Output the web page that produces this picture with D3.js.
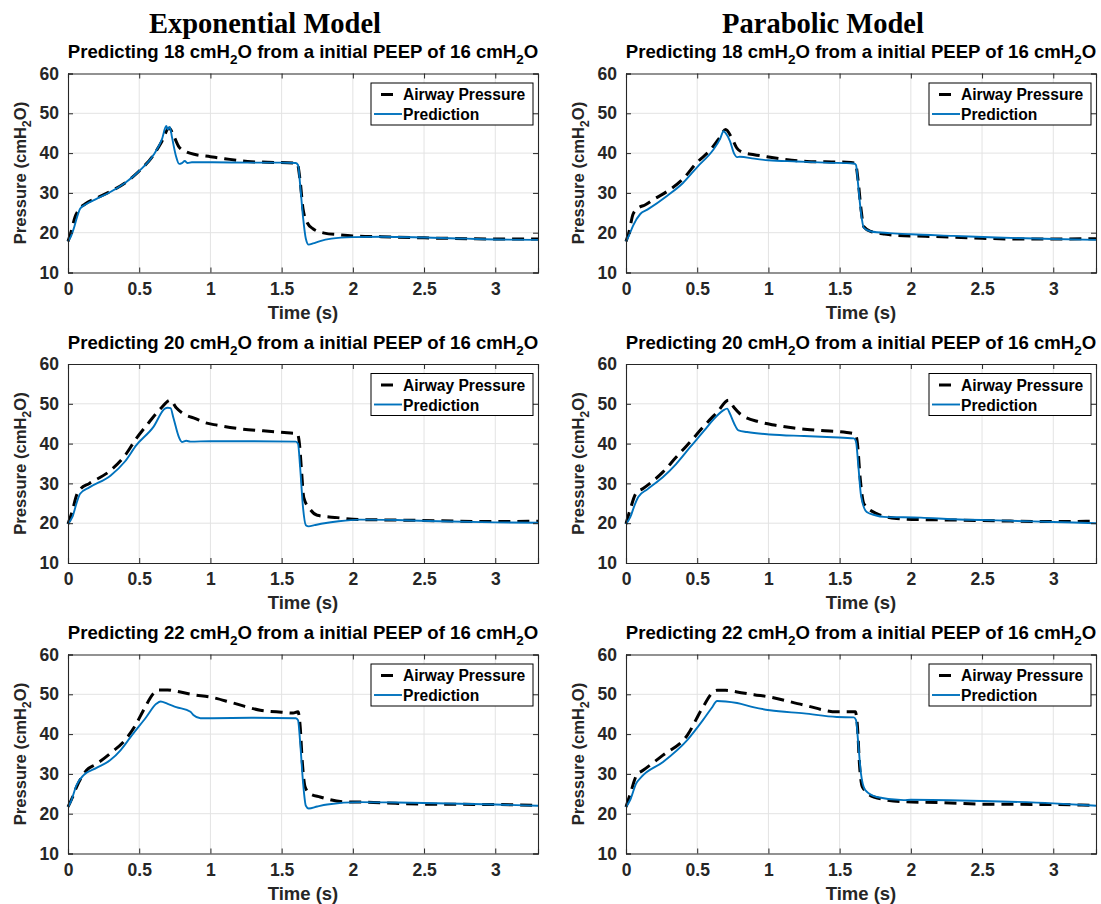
<!DOCTYPE html>
<html>
<head>
<meta charset="utf-8">
<script src="https://cdn.jsdelivr.net/npm/d3@7"></script>
<style>
  html, body { margin: 0; padding: 0; background: #fff; }
  svg { display: block; }
</style>
</head>
<body>
<svg id="chart" width="1101" height="904"></svg>
<script>
// ---- data: [time (s), pressure (cmH2O)] ----
const exp18Airway = [[0,17.8],[0.02,20],[0.05,24],[0.08,26],[0.12,27.2],[0.2,28.7],[0.3,30.4],[0.4,32.5],[0.5,35.5],[0.6,39.5],[0.66,43],[0.71,46.3],[0.74,44.5],[0.78,41.5],[0.83,40.3],[0.9,39.6],[1.0,39.1],[1.1,38.6],[1.26,37.9],[1.4,37.7],[1.58,37.5],[1.61,37.3],[1.63,33],[1.65,26],[1.68,22.5],[1.72,21],[1.8,19.9],[1.9,19.5],[2.0,19.2],[2.2,19.0],[2.5,18.7],[2.8,18.5],[3.0,18.4],[3.3,18.4]];
const exp18Pred = [[0,17.8],[0.02,19],[0.04,21],[0.06,23.5],[0.085,26],[0.12,27],[0.2,28.5],[0.3,30.3],[0.4,32.5],[0.5,35.5],[0.6,39.5],[0.66,43.5],[0.69,46.8],[0.70,46.0],[0.715,46.6],[0.73,44],[0.76,39],[0.78,37.3],[0.80,37.5],[0.82,38.0],[0.84,37.5],[0.87,37.7],[1.0,37.7],[1.3,37.6],[1.5,37.6],[1.6,37.5],[1.615,37.0],[1.63,32],[1.65,24],[1.67,18.5],[1.69,17.0],[1.72,17.3],[1.77,17.9],[1.85,18.5],[2.0,18.9],[2.2,19.0],[2.5,18.8],[2.8,18.5],[3.0,18.3],[3.3,18.2]];

const par18Airway = [[0,17.8],[0.02,20],[0.05,24.7],[0.09,26.3],[0.13,26.9],[0.2,28.5],[0.29,30.4],[0.4,33.5],[0.5,37.7],[0.59,40.7],[0.65,43.5],[0.70,45.9],[0.74,44],[0.78,41.2],[0.82,40.2],[0.9,39.6],[0.99,39.1],[1.1,38.5],[1.27,37.9],[1.4,37.8],[1.55,37.7],[1.61,37.5],[1.63,33],[1.65,26],[1.67,21.5],[1.72,20.3],[1.81,19.7],[1.9,19.3],[2.1,19.1],[2.3,18.9],[2.5,18.6],[2.8,18.4],[3.0,18.4],[3.3,18.5]];
const par18Pred = [[0,17.8],[0.02,19.2],[0.05,21.8],[0.1,24.7],[0.15,25.8],[0.29,29.3],[0.4,32.5],[0.5,36.5],[0.61,40.7],[0.66,43.5],[0.685,45.5],[0.7,45.0],[0.73,43],[0.76,39.8],[0.78,39.0],[0.8,39.1],[0.9,38.6],[1.0,38.2],[1.2,37.9],[1.4,37.6],[1.6,37.4],[1.615,37.0],[1.63,32],[1.65,25],[1.67,21.2],[1.72,20.3],[1.85,19.9],[2.0,19.6],[2.3,19.2],[2.6,18.8],[3.0,18.4],[3.3,18.2]];

const exp20Airway = [[0,19.8],[0.03,23],[0.06,27],[0.085,28.5],[0.15,30],[0.3,33.3],[0.4,37],[0.48,41.3],[0.55,44.5],[0.65,48.8],[0.72,50.9],[0.76,49],[0.81,47.5],[0.9,46.2],[0.95,45.4],[1.05,44.6],[1.19,43.8],[1.37,43.2],[1.54,42.7],[1.61,42.5],[1.625,40],[1.64,33],[1.655,26.5],[1.7,23.5],[1.75,22],[1.89,21.4],[2.05,20.9],[2.3,20.8],[2.6,20.6],[3.0,20.4],[3.3,20.5]];
const exp20Pred = [[0,19.8],[0.03,21.5],[0.06,25],[0.085,27.4],[0.15,29],[0.3,32.0],[0.4,35.5],[0.48,39.6],[0.6,44.2],[0.68,48.8],[0.70,49.0],[0.72,48.9],[0.74,46.5],[0.78,41.5],[0.80,40.4],[0.83,40.7],[0.86,40.5],[1.0,40.6],[1.3,40.6],[1.6,40.5],[1.615,40.0],[1.63,34],[1.65,24],[1.67,19.5],[1.69,19.2],[1.73,19.5],[1.8,20.0],[1.9,20.5],[2.05,20.9],[2.3,20.8],[2.6,20.5],[3.0,20.2],[3.3,20.1]];

const par20Airway = [[0,19.8],[0.03,23.5],[0.07,27.5],[0.12,28.7],[0.26,32.9],[0.35,36.5],[0.45,40.4],[0.55,44.5],[0.64,47.9],[0.72,50.9],[0.76,49],[0.80,47.5],[0.94,45.4],[1.05,44.6],[1.18,43.9],[1.36,43.3],[1.55,42.8],[1.61,42.4],[1.625,40],[1.645,31],[1.67,24.9],[1.76,22.4],[1.9,21.2],[2.07,20.9],[2.3,20.8],[2.6,20.6],[3.0,20.4],[3.3,20.5]];
const par20Pred = [[0,19.8],[0.03,21.5],[0.06,24.5],[0.086,26.6],[0.15,28.5],[0.26,31.6],[0.35,34.8],[0.45,39.1],[0.55,43.3],[0.61,45.9],[0.68,48.3],[0.71,48.8],[0.73,47.5],[0.76,45],[0.79,43.3],[0.85,42.9],[1.01,42.3],[1.25,41.9],[1.45,41.6],[1.6,41.3],[1.615,40.5],[1.63,35],[1.65,27],[1.69,22.8],[1.75,22],[1.81,21.6],[2.07,21.4],[2.3,21.0],[2.6,20.7],[3.0,20.3],[3.3,20.0]];

const exp22Airway = [[0,21.7],[0.03,24],[0.06,26.7],[0.13,30.9],[0.2,32.5],[0.295,35.1],[0.41,38.9],[0.47,42],[0.53,46.0],[0.60,50.2],[0.63,51.1],[0.7,51.1],[0.74,50.9],[0.88,49.9],[1.0,49.3],[1.16,47.8],[1.35,46.0],[1.5,45.5],[1.58,45.3],[1.615,45.6],[1.63,42],[1.645,33],[1.665,26.7],[1.7,25],[1.77,24.2],[1.93,23.0],[2.1,22.9],[2.3,22.6],[2.5,22.4],[3.0,22.3],[3.3,22.1]];
const exp22Pred = [[0,21.7],[0.02,23],[0.06,27.2],[0.11,29.7],[0.2,31.5],[0.295,33.4],[0.37,36],[0.44,39.3],[0.55,44.3],[0.62,47.6],[0.65,48.2],[0.7,47.6],[0.76,46.8],[0.86,45.6],[0.88,44.8],[0.93,44.0],[1.0,44.0],[1.3,44.1],[1.6,44.0],[1.615,43.5],[1.63,38],[1.65,28],[1.67,22],[1.69,21.3],[1.75,21.8],[1.82,22.3],[2.05,22.9],[2.3,22.8],[2.5,22.7],[3.0,22.3],[3.3,22.0]];

const par22Airway = [[0,21.7],[0.03,25],[0.075,29.7],[0.12,30.9],[0.26,34.7],[0.43,39.7],[0.54,46.8],[0.61,50.5],[0.64,51.0],[0.7,51.0],[0.78,50.6],[0.9,49.9],[1.01,49.3],[1.25,47.3],[1.48,45.6],[1.61,45.6],[1.625,42],[1.64,32],[1.66,26.7],[1.74,24.2],[1.95,23.0],[2.2,22.8],[2.5,22.4],[3.0,22.3],[3.3,22.1]];
const par22Pred = [[0,21.7],[0.03,23.5],[0.07,27.5],[0.11,29.3],[0.26,33.0],[0.43,38.5],[0.54,43.5],[0.6,46.5],[0.64,48.3],[0.7,48.2],[0.78,47.8],[0.9,46.7],[1.01,46.0],[1.25,45.2],[1.48,44.3],[1.6,44.2],[1.615,43.5],[1.63,38],[1.65,30],[1.68,25.9],[1.76,24.2],[1.95,23.4],[2.0,23.5],[2.5,23.2],[3.0,22.6],[3.3,22.0]];

const modelTitles = ["Exponential Model", "Parabolic Model"];
const targetPeeps = [18, 20, 22];
const initialPeep = 16;
const xTicks = [0, 0.5, 1, 1.5, 2, 2.5, 3];
const yTicks = [10, 20, 30, 40, 50, 60];
const legendLabels = ["Airway Pressure", "Prediction"];

const panels = [
  [exp18Airway, exp18Pred, par18Airway, par18Pred],
  [exp20Airway, exp20Pred, par20Airway, par20Pred],
  [exp22Airway, exp22Pred, par22Airway, par22Pred]
];

// ---- layout ----
const colLeft = [68, 626];
const rowTop = [73.5, 364, 654.5];
const plotW = 470, plotH = 199;
const axisColor = "#262626";
const gridColor = "#e3e3e3";
const blue = "#0072BD";
const sans = "'Liberation Sans', Arial, sans-serif";
const tickFont = 17.5;

const svg = d3.select("#chart");

// column headers
modelTitles.forEach((t, c) => {
  svg.append("text")
    .attr("x", colLeft[c] + 197)
    .attr("y", 33)
    .attr("text-anchor", "middle")
    .attr("font-family", "'Liberation Serif', 'DejaVu Serif', serif")
    .attr("font-weight", "bold")
    .attr("font-size", 28.5)
    .attr("fill", "#000")
    .text(t);
});

function subtitle(g, x, y, target) {
  const t = g.append("text")
    .attr("x", x).attr("y", y)
    .attr("text-anchor", "middle")
    .attr("font-family", sans)
    .attr("font-weight", "bold")
    .attr("font-size", 18.6)
    .attr("fill", "#000");
  t.append("tspan").text(`Predicting ${target} cmH`);
  t.append("tspan").attr("dy", 6).attr("font-size", 13.5).text("2");
  t.append("tspan").attr("dy", -6).text(`O from a initial PEEP of ${initialPeep} cmH`);
  t.append("tspan").attr("dy", 6).attr("font-size", 13.5).text("2");
  t.append("tspan").attr("dy", -6).text("O");
}

panels.forEach((series, r) => {
  [0, 1].forEach(c => {
    const x0 = colLeft[c], y0 = rowTop[r];
    const x = d3.scaleLinear().domain([0, 3.3]).range([x0, x0 + plotW]);
    const y = d3.scaleLinear().domain([10, 60]).range([y0 + plotH, y0]);
    const g = svg.append("g");

    // grid
    g.append("g").selectAll("line").data(xTicks.filter(v => v > 0)).join("line")
      .attr("x1", d => x(d)).attr("x2", d => x(d))
      .attr("y1", y0).attr("y2", y0 + plotH)
      .attr("stroke", gridColor).attr("stroke-width", 1);
    g.append("g").selectAll("line").data(yTicks.filter(v => v > 10 && v < 60)).join("line")
      .attr("x1", x0).attr("x2", x0 + plotW)
      .attr("y1", d => y(d)).attr("y2", d => y(d))
      .attr("stroke", gridColor).attr("stroke-width", 1);

    // series
    const line = d3.line().x(d => x(d[0])).y(d => y(d[1])).curve(d3.curveMonotoneX);
    const airway = series[c * 2], pred = series[c * 2 + 1];
    g.append("path").datum(airway)
      .attr("d", line).attr("fill", "none")
      .attr("stroke", "#000").attr("stroke-width", 3)
      .attr("stroke-dasharray", "12,7");
    g.append("path").datum(pred)
      .attr("d", line).attr("fill", "none")
      .attr("stroke", blue).attr("stroke-width", 1.9);

    // axes (boxed, ticks on all four sides)
    const ax = g.append("g");
    const bottom = d3.axisBottom(x).tickValues(xTicks).tickSize(-5).tickPadding(10).tickFormat(d3.format("~g"));
    const top = d3.axisTop(x).tickValues(xTicks).tickSize(-5).tickFormat("");
    const left = d3.axisLeft(y).tickValues(yTicks).tickSize(-5).tickPadding(9);
    const right = d3.axisRight(y).tickValues(yTicks).tickSize(-5).tickFormat("");
    [[bottom, `translate(0,${y0 + plotH})`], [top, `translate(0,${y0})`],
     [left, `translate(${x0},0)`], [right, `translate(${x0 + plotW},0)`]].forEach(([a, tr]) => {
      const s = ax.append("g").attr("transform", tr).call(a);
      s.select(".domain").attr("stroke", axisColor).attr("stroke-width", 1.1);
      s.selectAll(".tick line").attr("stroke", axisColor);
      s.selectAll(".tick text").attr("fill", axisColor).attr("font-size", tickFont)
        .attr("font-family", sans).attr("font-weight", "bold");
    });

    // axis labels
    g.append("text")
      .attr("x", x0 + plotW / 2).attr("y", y0 + plotH + 46)
      .attr("text-anchor", "middle")
      .attr("font-family", sans).attr("font-weight", "bold").attr("font-size", 18.5)
      .attr("fill", axisColor).text("Time (s)");
    const yl = g.append("text")
      .attr("transform", `translate(${x0 - 42},${y0 + plotH / 2}) rotate(-90)`)
      .attr("text-anchor", "middle")
      .attr("font-family", sans).attr("font-weight", "bold").attr("font-size", 16.6)
      .attr("fill", axisColor);
    yl.append("tspan").text("Pressure (cmH");
    yl.append("tspan").attr("dy", 5).attr("font-size", 12.5).text("2");
    yl.append("tspan").attr("dy", -5).text("O)");

    subtitle(g, x0 + plotW / 2, y0 - 15.5, targetPeeps[r]);

    // legend
    const lx = x0 + plotW - 167, ly = y0 + 9.5, lw = 162, lh = 42;
    const lg = g.append("g");
    lg.append("rect").attr("x", lx).attr("y", ly).attr("width", lw).attr("height", lh)
      .attr("fill", "#fff").attr("stroke", "#000").attr("stroke-width", 1);
    lg.append("line").attr("x1", lx + 10).attr("x2", lx + 22)
      .attr("y1", ly + 11.5).attr("y2", ly + 11.5)
      .attr("stroke", "#000").attr("stroke-width", 3);
    lg.append("line").attr("x1", lx + 3).attr("x2", lx + 31)
      .attr("y1", ly + 31).attr("y2", ly + 31)
      .attr("stroke", blue).attr("stroke-width", 1.9);
    legendLabels.forEach((t, i) => {
      lg.append("text").attr("x", lx + 32).attr("y", ly + 17 + i * 20)
        .attr("font-family", sans).attr("font-weight", "bold").attr("font-size", 15.6)
        .attr("fill", "#000").text(t);
    });
  });
});
</script>
</body>
</html>
